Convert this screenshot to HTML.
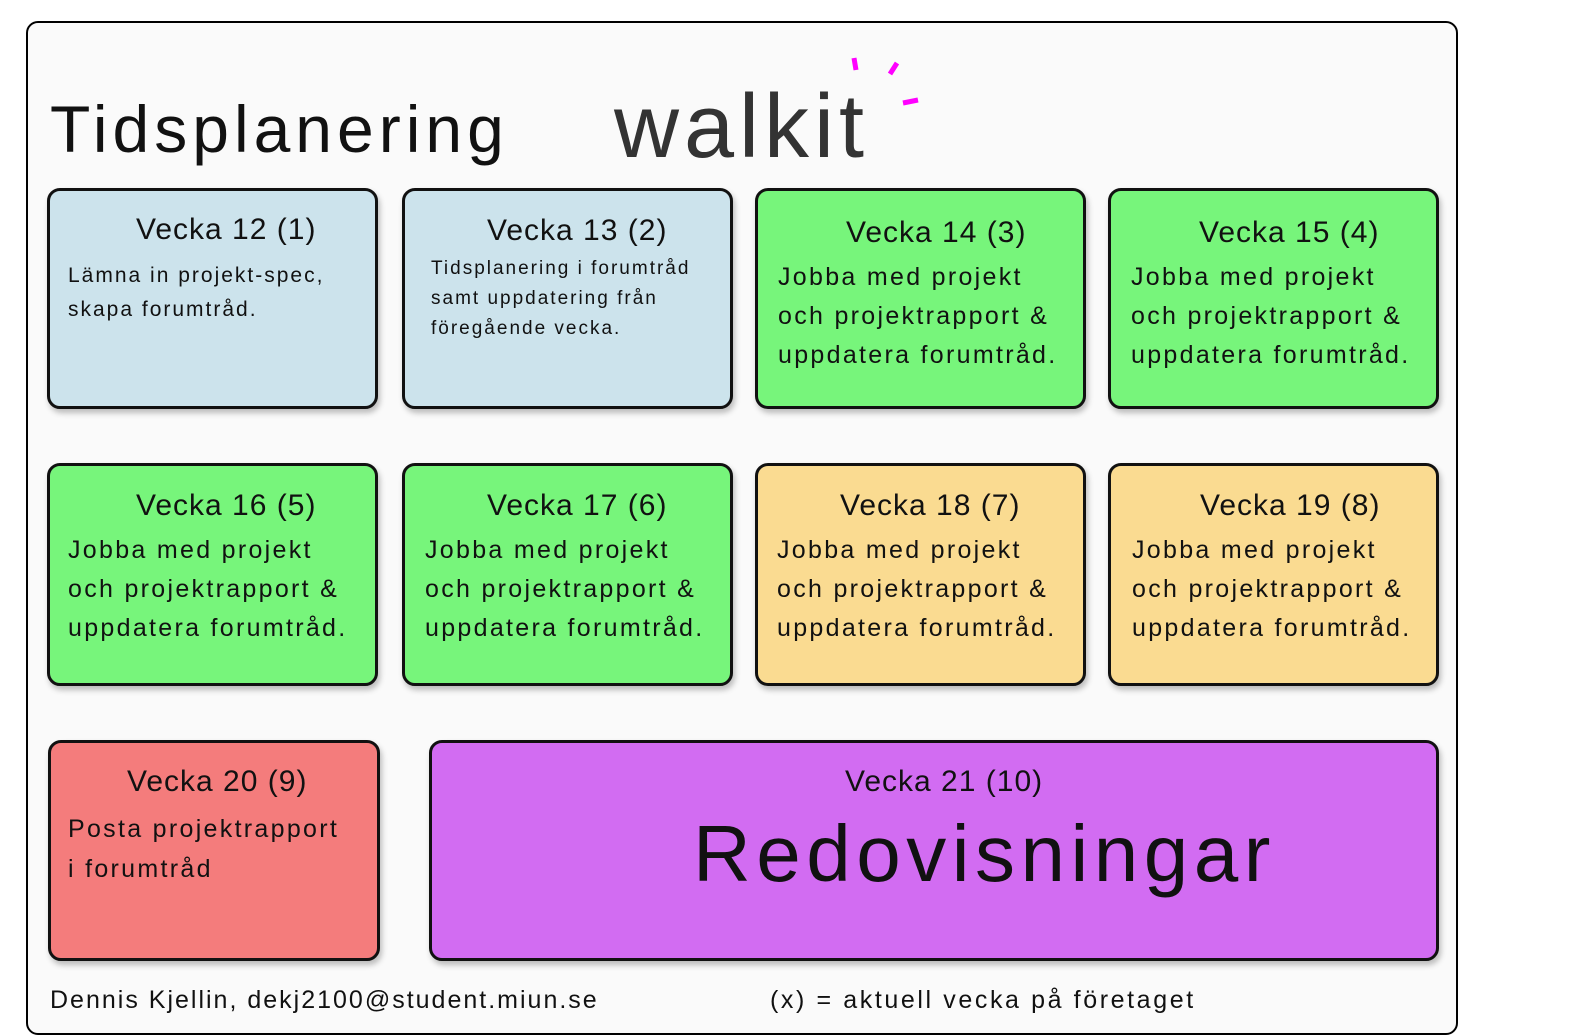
<!DOCTYPE html>
<html><head><meta charset="utf-8"><style>
body{margin:0;width:1573px;height:1036px;background:#fff;position:relative;overflow:hidden;font-family:"Liberation Sans",sans-serif;color:#111}
.frame{position:absolute;left:26px;top:21px;width:1428px;height:1010px;background:#fafafa;border:2px solid #000;border-radius:12px}
.b{position:absolute;border:3px solid #111;border-radius:13px;box-shadow:2px 4px 6px rgba(0,0,0,.25);box-sizing:border-box}
.t{position:absolute;white-space:nowrap;line-height:1}
.h{font-size:30px;letter-spacing:1px}
.p{font-size:25px;letter-spacing:2.3px}
</style></head><body>
<div class="frame"></div>
<div class="t" style="left:50px;top:96px;font-size:66px;letter-spacing:5px">Tidsplanering</div>
<div class="t" style="left:614px;top:82px;font-size:90px;color:#333;letter-spacing:5px">walkit</div>
<svg style="position:absolute;left:840px;top:50px" width="90" height="70"><g stroke="#f0f" stroke-width="5"><line x1="14" y1="8" x2="16" y2="20"/><line x1="57" y1="13" x2="50" y2="24"/><line x1="63" y1="53" x2="78" y2="50"/></g></svg>

<div class="b" style="left:47px;top:188px;width:331px;height:221px;background:#cce3ec"></div>
<div class="b" style="left:402px;top:188px;width:331px;height:221px;background:#cce3ec"></div>
<div class="b" style="left:755px;top:188px;width:331px;height:221px;background:#77f57b"></div>
<div class="b" style="left:1108px;top:188px;width:331px;height:221px;background:#77f57b"></div>
<div class="b" style="left:47px;top:463px;width:331px;height:223px;background:#77f57b"></div>
<div class="b" style="left:402px;top:463px;width:331px;height:223px;background:#77f57b"></div>
<div class="b" style="left:755px;top:463px;width:331px;height:223px;background:#fadb91"></div>
<div class="b" style="left:1108px;top:463px;width:331px;height:223px;background:#fadb91"></div>
<div class="b" style="left:48px;top:740px;width:332px;height:221px;background:#f47c7c"></div>
<div class="b" style="left:429px;top:740px;width:1010px;height:221px;background:#d26cf2"></div>

<div class="t h" style="left:136px;top:215px">Vecka 12 (1)</div>
<div class="t" style="left:68px;top:259px;font-size:21px;line-height:34px;letter-spacing:2px">Lämna in projekt-spec,<br>skapa forumtråd.</div>
<div class="t h" style="left:487px;top:216px">Vecka 13 (2)</div>
<div class="t" style="left:431px;top:254px;font-size:19px;line-height:30px;letter-spacing:2px">Tidsplanering i forumtråd<br>samt uppdatering från<br>föregående vecka.</div>

<div class="t h" style="left:846px;top:218px">Vecka 14 (3)</div>
<div class="t p" style="left:778px;top:258px;line-height:39px">Jobba med projekt<br>och projektrapport &amp;<br>uppdatera forumtråd.</div>
<div class="t h" style="left:1199px;top:218px">Vecka 15 (4)</div>
<div class="t p" style="left:1131px;top:258px;line-height:39px">Jobba med projekt<br>och projektrapport &amp;<br>uppdatera forumtråd.</div>

<div class="t h" style="left:136px;top:491px">Vecka 16 (5)</div>
<div class="t p" style="left:68px;top:531px;line-height:39px">Jobba med projekt<br>och projektrapport &amp;<br>uppdatera forumtråd.</div>
<div class="t h" style="left:487px;top:491px">Vecka 17 (6)</div>
<div class="t p" style="left:425px;top:531px;line-height:39px">Jobba med projekt<br>och projektrapport &amp;<br>uppdatera forumtråd.</div>
<div class="t h" style="left:840px;top:491px">Vecka 18 (7)</div>
<div class="t p" style="left:777px;top:531px;line-height:39px">Jobba med projekt<br>och projektrapport &amp;<br>uppdatera forumtråd.</div>
<div class="t h" style="left:1200px;top:491px">Vecka 19 (8)</div>
<div class="t p" style="left:1132px;top:531px;line-height:39px">Jobba med projekt<br>och projektrapport &amp;<br>uppdatera forumtråd.</div>

<div class="t h" style="left:127px;top:767px">Vecka 20 (9)</div>
<div class="t p" style="left:68px;top:809px;line-height:40px">Posta projektrapport<br>i forumtråd</div>
<div class="t h" style="left:845px;top:767px">Vecka 21 (10)</div>
<div class="t" style="left:693px;top:814px;font-size:80px;letter-spacing:5.5px">Redovisningar</div>

<div class="t" style="left:50px;top:988px;font-size:25px;letter-spacing:2px">Dennis Kjellin, dekj2100@student.miun.se</div>
<div class="t" style="left:770px;top:988px;font-size:25px;letter-spacing:2.6px">(x) = aktuell vecka på företaget</div>
</body></html>
